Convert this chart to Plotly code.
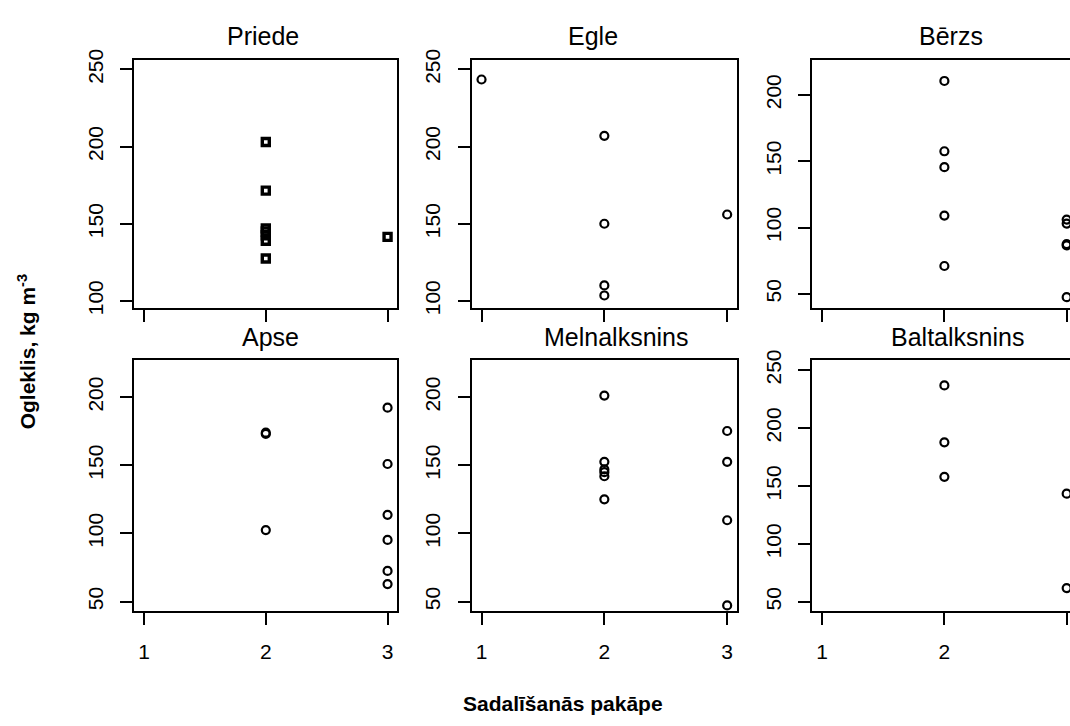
import plotly.graph_objects as go

# ---- data ----
species = ["Priede", "Egle", "Bērzs", "Apse", "Melnalksnins", "Baltalksnins"]

priede_x = [2, 2, 2, 2, 2, 2, 2, 3]
priede_y = [203, 171.5, 147, 145, 142.5, 139, 127.5, 141.5]

egle_x = [1, 2, 2, 2, 2, 3]
egle_y = [243.5, 207, 150, 110, 103.5, 156]

berzs_x = [2, 2, 2, 2, 2, 3, 3, 3, 3, 3]
berzs_y = [210.5, 157.5, 145.5, 109, 71, 106, 103, 87.5, 86.5, 47.5]

apse_x = [2, 2, 2, 3, 3, 3, 3, 3, 3]
apse_y = [174, 173, 102.5, 192.3, 151, 113.7, 95.3, 72.5, 62.9]

melnalksnins_x = [2, 2, 2, 2, 2, 2, 3, 3, 3, 3]
melnalksnins_y = [201.2, 152.6, 147, 145, 142, 125.1, 175.2, 152.6, 109.7, 47.2]

baltalksnins_x = [2, 2, 2, 3, 3]
baltalksnins_y = [236.8, 187.7, 158, 143.4, 62]

x_ticks = [1, 2, 3]
y_ticks_priede = [100, 150, 200, 250]
y_ticks_egle = [100, 150, 200, 250]
y_ticks_berzs = [50, 100, 150, 200]
y_ticks_apse = [50, 100, 150, 200]
y_ticks_melnalksnins = [50, 100, 150, 200]
y_ticks_baltalksnins = [50, 100, 150, 200, 250]

x_title = "Sadalīšanās pakāpe"
y_title = "Ogleklis, kg m<sup>-3</sup>"

# ---- layout geometry (pixels) ----
W, H = 1070, 726
FONT = "Liberation Sans, Arial, sans-serif"

def px_x(p):
    return p / W

def px_y(p):
    return 1 - p / H

cols = [(134.3, 397.3), (471.7, 737.0), (812.3, 1070.0)]
rows = [(50.0, 305.0), (358.3, 615.0)]
x_ranges = [[0.92, 3.08], [0.92, 3.08], [0.92, 0.92 + (1070 - 812.3) / 122.3]]
y_ranges = [[95.1, 256.3], [95.1, 256.3], [39.0, 226.5],
            [43.3, 227.0], [43.3, 227.0], [42.4, 258.4]]
title_cx = [263.3, 592.5, 950.8, 270.8, 616.7, 957.5]

panels = [
    (priede_x, priede_y, y_ticks_priede, "square-open", 7, 3.4),
    (egle_x, egle_y, y_ticks_egle, "circle-open", 8, 2.2),
    (berzs_x, berzs_y, y_ticks_berzs, "circle-open", 8, 2.2),
    (apse_x, apse_y, y_ticks_apse, "circle-open", 8, 2.2),
    (melnalksnins_x, melnalksnins_y, y_ticks_melnalksnins, "circle-open", 8, 2.2),
    (baltalksnins_x, baltalksnins_y, y_ticks_baltalksnins, "circle-open", 8, 2.2),
]

fig = go.Figure()
layout = dict(
    width=W, height=H,
    margin=dict(l=0, r=0, t=0, b=0),
    paper_bgcolor="white", plot_bgcolor="white",
    showlegend=False,
    font=dict(family=FONT, color="black"),
)

annotations = []
for i, (xs, ys, yt, sym, size, lw) in enumerate(panels):
    r, c = divmod(i, 3)
    n = "" if i == 0 else str(i + 1)
    fig.add_trace(go.Scatter(
        x=xs, y=ys, mode="markers",
        marker=dict(symbol=sym, size=size, color="black",
                    line=dict(color="black", width=lw)),
        xaxis="x" + n, yaxis="y" + n, cliponaxis=False, hoverinfo="skip",
    ))
    common = dict(showgrid=False, zeroline=False, showline=True,
                  linecolor="black", linewidth=2, ticks="outside",
                  ticklen=12, tickwidth=2, tickcolor="black",
                  tickfont=dict(family=FONT, size=21, color="black"),
                  ticklabelstandoff=9, fixedrange=True)
    layout["xaxis" + n] = dict(
        common, domain=[px_x(cols[c][0]), px_x(cols[c][1])],
        range=x_ranges[c], tickvals=x_ticks, ticktext=[str(v) for v in x_ticks],
        anchor="y" + n, mirror=True, showticklabels=(r == 1),
    )
    layout["yaxis" + n] = dict(
        common, domain=[px_y(rows[r][1]), px_y(rows[r][0])],
        range=y_ranges[i], tickvals=yt, ticktext=[str(v) for v in yt],
        anchor="x" + n, mirror=(c < 2), tickangle=-90,
    )
    annotations.append(dict(
        text=species[i], xref="paper", yref="paper",
        x=px_x(title_cx[i]), y=px_y(rows[r][0] - 8),
        xanchor="center", yanchor="bottom", showarrow=False,
        font=dict(family=FONT, size=25, color="black"),
    ))

annotations.append(dict(
    text="<b>" + x_title + "</b>", xref="paper", yref="paper",
    x=px_x(563), y=px_y(710), xanchor="center", yanchor="middle",
    showarrow=False, font=dict(family=FONT, size=21, color="black"),
))
annotations.append(dict(
    text="<b>" + y_title + "</b>", xref="paper", yref="paper",
    x=px_x(27), y=px_y(350), xanchor="center", yanchor="middle",
    textangle=-90, showarrow=False,
    font=dict(family=FONT, size=21, color="black"),
))
layout["annotations"] = annotations

fig.update_layout(**layout)
fig.write_html("out.html")
